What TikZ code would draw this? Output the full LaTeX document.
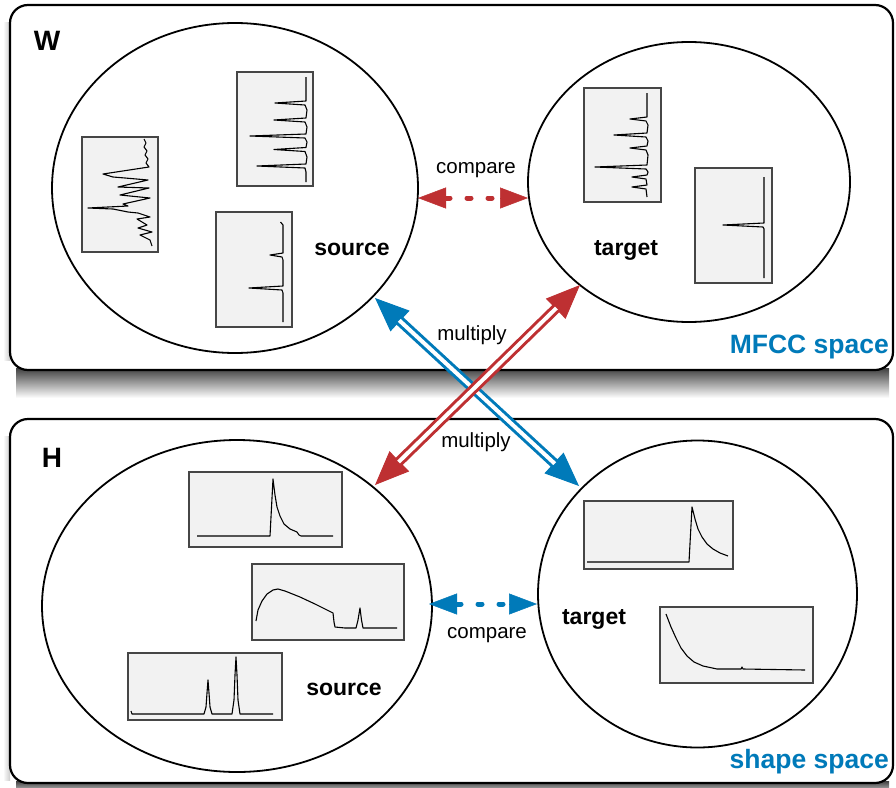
\documentclass[tikz,border=0pt]{standalone}
\usepackage{fontspec}
\setmainfont{Liberation Sans}
\usetikzlibrary{arrows.meta,shapes.geometric,calc}
\definecolor{myblue}{RGB}{0,122,185}
\definecolor{myred}{RGB}{190,48,50}
\definecolor{panelfill}{RGB}{242,242,242}
\definecolor{panelline}{RGB}{70,70,70}
\tikzset{
  bigbox/.style={draw=black, fill=white, line width=2.2pt, rounded corners=18pt},
  ell/.style={ellipse, draw=black, line width=1.8pt, inner sep=0pt},
  panel/.style={draw=panelline, fill=panelfill, line width=1.2pt},
  spec/.style={draw=black, line width=1.1pt, line join=round},
  lab/.style={font=\bfseries\fontsize{23}{26}\selectfont, inner sep=0pt, anchor=base},
  sm/.style={font=\fontsize{20.5}{24}\selectfont, inner sep=0pt, anchor=base},
  spacelab/.style={font=\bfseries\fontsize{26.5}{30}\selectfont, text=myblue, inner sep=0pt, anchor=base east},
  letter/.style={font=\bfseries\fontsize{28}{32}\selectfont, inner sep=0pt, anchor=base},
  bighead/.style={line width=1pt, {Triangle[length=34pt,width=28pt]}-{Triangle[length=34pt,width=28pt]}},
  shaft/.style={line width=3pt, double=white, double distance=4pt, shorten <=33pt, shorten >=33pt},
  dots/.style={line width=5pt, dash pattern=on 4pt off 17pt, line cap=round, shorten <=28pt, shorten >=28pt},
  smallhead/.style={line width=0.5pt, -{Triangle[length=28pt,width=21pt]}}
}
\begin{document}
\begin{tikzpicture}[x=1pt,y=-1pt]
\useasboundingbox (0,0) rectangle (896,787);
% shadows
\shade[top color=black!75, bottom color=white] (16,368) rectangle (889,398);
\shade[left color=white, right color=black!20] (3,22) rectangle (10,360);
\shade[left color=white, right color=black!20] (3,436) rectangle (10,780);
\shade[top color=black!75, bottom color=black!45] (16,781) rectangle (889,787);
% boxes
\draw[bigbox] (10,5) rectangle (893,370);
\draw[bigbox] (10,419) rectangle (893,783);
% ellipses
\node[ell, minimum width=366pt, minimum height=330pt] (wsrc) at (235,188) {};
\node[ell, minimum width=322pt, minimum height=280pt] (wtgt) at (689,182) {};
\node[ell, minimum width=390pt, minimum height=332pt] (hsrc) at (237,606) {};
\node[ell, minimum width=319pt, minimum height=307pt] (htgt) at (697.5,594) {};
% labels
\node[letter] (wl) at (47,50) {W};
\node[letter] (hl) at (52,467) {H};
\node[lab] (wsrcl) at (352,255) {source};
\node[lab] (wtgtl) at (626,255) {target};
\node[lab] (hsrcl) at (344,695) {source};
\node[lab] (htgtl) at (594,624) {target};
\node[spacelab] (mfcc) at (889,353) {MFCC space};
\node[spacelab] (shp) at (889,768) {shape space};
\node[sm] (cmpw) at (476,173) {compare};
\node[sm] (cmph) at (487,638) {compare};
\node[sm] (mul1) at (472,340) {multiply};
\node[sm] (mul2) at (476,447) {multiply};
% W source panels
\draw[panel] (82,137) rectangle (158,252);
\draw[spec] (144,139) -- (146,143) -- (144,147) -- (147,151) -- (145,155) -- (148,159) -- (146,163) -- (149,167) -- (103,174) -- (113,177) -- (125,178) -- (148,180) -- (118,187) -- (149,188) -- (120,195) -- (150,198) -- (123,204) -- (128,206) -- (88,208) -- (113,209) -- (128,212) -- (138,213) -- (150,217) -- (137,219) -- (147,225) -- (138,228) -- (152,232) -- (140,235) -- (150,240) -- (152,246);
\draw[panel] (237,72) rectangle (313,186);
\draw[spec] (306,77) -- (306,101) -- (275,103) -- (305,105) -- (307,110) -- (306,118) -- (274,120) -- (305,122) -- (307,127) -- (306,134) -- (250,136) -- (305,138) -- (307,142) -- (306,147.5) -- (274,149.5) -- (305,151.5) -- (307,157) -- (306,164) -- (257,166) -- (305,168) -- (306,172) -- (306,182);
\draw[panel] (216,212) rectangle (292,327);
\draw[spec] (280.5,222) -- (283,225) -- (283,253) -- (270,255) -- (282,257) -- (283,260) -- (283,286) -- (249,288) -- (282,290) -- (283,293) -- (283,322);
% W target panels
\draw[panel] (584,88) rectangle (661,202);
\draw[spec] (647,93) -- (647,117) -- (630,119) -- (646,121) -- (648,125) -- (647,133) -- (614,135) -- (646,137) -- (648,141) -- (647,146) -- (630,148) -- (646,150) -- (648,155) -- (647,165) -- (595,167) -- (646,169) -- (648,172) -- (647,175) -- (632,177) -- (646,179) -- (647,185) -- (632,187) -- (646,189) -- (647,197);
\draw[panel] (695,168) rectangle (772,283);
\draw[spec] (764,177) -- (764,223) -- (723,225) -- (763,227) -- (764,229) -- (764,278);
% H source panels
\draw[panel] (189,472) rectangle (342,547);
\draw[spec] (197,536) -- (270,536) -- (273,479) -- (275,495) -- (277,507) -- (280,516) -- (284,524) -- (290,529) -- (297,532) -- (299,535) -- (301,536) -- (333,536);
\draw[panel] (252,564) rectangle (404,640);
\draw[spec] (256,621) -- (258,610) -- (262,601) -- (267,594) -- (273,590) -- (278,589) -- (285,591) -- (300,597) -- (315,604) -- (325,609) -- (333,613) -- (334,622) -- (335,627) -- (345,628) -- (356,628) -- (358,620) -- (360,608) -- (361.5,620) -- (363,628) -- (397,628);
\draw[panel] (128,653) rectangle (282,720);
\draw[spec] (131,711) -- (132,714) -- (204,714) -- (206,707) -- (207,693) -- (208,680) -- (209,693) -- (210,707) -- (212,714) -- (232,714) -- (234,700) -- (235,675) -- (236,657) -- (237,675) -- (238,700) -- (240,714) -- (273,714);
% H target panels
\draw[panel] (584,501) rectangle (733,569);
\draw[spec] (587,562) -- (689,562) -- (692,507) -- (695,519) -- (698,529) -- (702,537) -- (707,544) -- (713,549) -- (720,553) -- (728,556);
\draw[panel] (660,607) rectangle (813,683);
\draw[spec] (666,614) -- (671,627) -- (676,638) -- (681,648) -- (687,656) -- (694,662) -- (703,666) -- (717,669) -- (741,669) -- (742,667) -- (743,669) -- (805,670);
% arrow end points
\coordinate (bw) at (375,298);
\coordinate (bh) at (579,486);
\coordinate (rh) at (375,485);
\coordinate (rw) at (580,285);
\coordinate (cwl) at (418,198);
\coordinate (cwr) at (528,198);
\coordinate (chl) at (429,604);
\coordinate (chr) at (537,604);
% multiply arrows
\draw[myblue, bighead] (bw) -- (bh);
\draw[myblue, shaft] (bw) -- (bh);
\draw[myred, bighead] (rh) -- (rw);
\draw[myred, shaft] (rh) -- (rw);
% compare arrows
\draw[myred, dots] (cwl) -- (cwr);
\draw[myred, smallhead] ($(cwl)!28pt!(cwr)$) -- (cwl);
\draw[myred, smallhead] ($(cwr)!28pt!(cwl)$) -- (cwr);
\draw[myblue, dots] (chl) -- (chr);
\draw[myblue, smallhead] ($(chl)!28pt!(chr)$) -- (chl);
\draw[myblue, smallhead] ($(chr)!28pt!(chl)$) -- (chr);
\end{tikzpicture}
\end{document}
